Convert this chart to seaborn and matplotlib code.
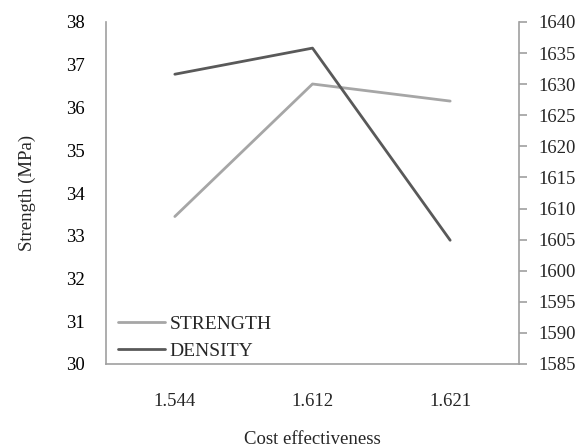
import numpy as np
import pandas as pd
import matplotlib
matplotlib.use('Agg')
import matplotlib.pyplot as plt
import seaborn as sns

# 数据
cost = ['1.544', '1.612', '1.621']
strength = [33.45, 36.55, 36.15]
density = [1631.6, 1635.8, 1604.9]

df = pd.DataFrame({'cost': cost, 'pos': np.arange(len(cost)),
                   'strength': strength, 'density': density})

sns.set_style("white")
plt.rcParams['font.family'] = ['Liberation Serif', 'DejaVu Serif']

fig = plt.figure(figsize=(5.86, 4.47), dpi=100)
ax = fig.add_axes([106/586, 1-364/447, 413/586, 342/447])
ax2 = ax.twinx()

sns.lineplot(data=df, x='pos', y='strength', ax=ax, color='#a6a6a6', lw=2, label='STRENGTH', legend=False)
sns.lineplot(data=df, x='pos', y='density', ax=ax2, color='#595959', lw=2, label='DENSITY', legend=False)

ax.set_xlim(-0.5, 2.5)
ax.set_xticks(df['pos'])
ax.set_xticklabels(cost)
ax.set_ylim(30, 38)
ax.set_yticks(range(30, 39))
ax2.set_ylim(1585, 1640)
ax2.set_yticks(range(1585, 1641, 5))

for a in (ax, ax2):
    for s in a.spines.values():
        s.set_visible(False)
        s.set_color('#a0a0a0')
        s.set_linewidth(1.2)
ax.spines['left'].set_visible(True)
ax.spines['bottom'].set_visible(True)
ax2.spines['right'].set_visible(True)

fs = 13.5
ax.tick_params(axis='y', length=0, labelsize=fs, pad=15, colors='black')
ax.tick_params(axis='x', length=0, labelsize=fs, pad=21)
ax2.tick_params(axis='y', length=6, width=1.2, color='#a0a0a0', labelsize=fs, pad=8)

ax.set_xlabel('Cost effectiveness', fontsize=fs, labelpad=15)
ax.set_ylabel('Strength (MPa)', fontsize=fs, labelpad=22)
ax2.set_ylabel('')

h1, l1 = ax.get_legend_handles_labels()
h2, l2 = ax2.get_legend_handles_labels()
ax2.legend(h1 + h2, l1 + l2, loc='lower left', frameon=False, fontsize=14,
           handlelength=2.4, handletextpad=0.26, labelspacing=0.5,
           borderaxespad=0, borderpad=0, bbox_to_anchor=(0.029, 0.012))

plt.savefig('out.png', dpi=100)
